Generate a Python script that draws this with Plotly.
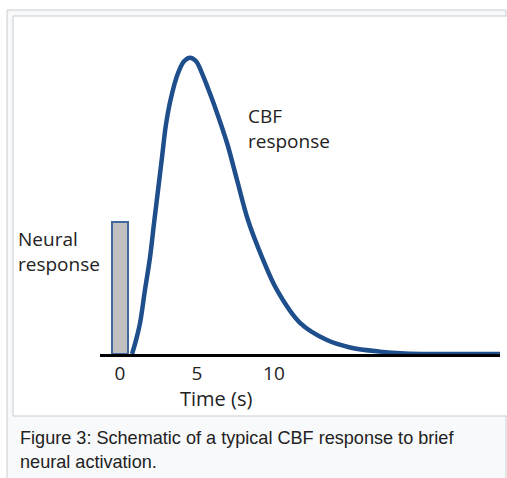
import plotly.graph_objects as go

# CBF response curve (time in s, normalised amplitude)
time_s = [0.78, 1.04, 1.30, 1.62, 1.95, 2.21, 2.47, 2.73, 2.99, 3.31, 3.77, 4.16, 4.55, 4.94, 5.32,
          5.71, 6.17, 6.95, 7.60, 8.31, 9.22, 10.19, 11.69, 13.44, 14.94, 16.88, 18.5, 20.5, 24.7]
cbf = [0.0, 0.047, 0.104, 0.216, 0.327, 0.442, 0.553, 0.665, 0.776, 0.864, 0.948, 0.988, 1.0, 0.988, 0.948,
       0.897, 0.833, 0.712, 0.587, 0.452, 0.327, 0.216, 0.105, 0.047, 0.022, 0.008, 0.002, 0.0, 0.0]

# Neural response (brief stimulus)
neural_time = [0]
neural_value = [0.445]

tick_vals = [0, 5, 10]
tick_text = ["0", "5", "10"]

W, H = 507, 478
L, R, T, B = 100, 7, 28, 124
PW = W - L - R
PH = H - T - B


def px(x):
    return (x - L) / PW


def py(y):
    return (H - B - y) / PH


fig = go.Figure()
fig.add_trace(go.Bar(x=neural_time, y=neural_value, width=1.1,
                     marker=dict(color="#c0c0c0", line=dict(color="#41689a", width=2)),
                     showlegend=False))
fig.add_trace(go.Scatter(x=time_s, y=cbf, mode="lines",
                         line=dict(color="#1f4e8c", width=4.5, shape="spline", smoothing=1.0),
                         showlegend=False))

shapes = [
    dict(type="rect", xref="paper", yref="paper", x0=px(7), x1=px(506), y0=py(480), y1=py(10),
         fillcolor="#f8f9fa", line=dict(color="#cccccc", width=1), layer="below"),
    dict(type="rect", xref="paper", yref="paper", x0=px(13), x1=px(512), y0=py(416), y1=py(16),
         fillcolor="#ffffff", line=dict(color="#c8ccd1", width=1), layer="below"),
]

FONT = "Open Sans"
annotations = [
    dict(x=8.2, y=0.76, xref="x", yref="y", text="CBF<br>response", showarrow=False,
         xanchor="left", yanchor="middle", align="left",
         font=dict(family=FONT, size=19, color="#222222")),
    dict(x=px(16), y=0.346, xref="paper", yref="y", text="Neural<br>response", showarrow=False,
         xanchor="left", yanchor="middle", align="left",
         font=dict(family=FONT, size=19, color="#222222")),
    dict(x=px(216), y=py(398), xref="paper", yref="paper", text="Time (s)", showarrow=False,
         xanchor="center", yanchor="middle",
         font=dict(family=FONT, size=20, color="#222222")),
    dict(x=px(18), y=py(449.5), xref="paper", yref="paper",
         text="Figure 3: Schematic of a typical CBF response to brief<br>neural activation.",
         showarrow=False, xanchor="left", yanchor="middle", align="left",
         font=dict(family="Liberation Sans, Arial", size=18.1, color="#222222")),
]

fig.update_layout(
    width=W, height=H,
    margin=dict(l=L, r=R, t=T, b=B, pad=0),
    paper_bgcolor="#ffffff",
    plot_bgcolor="rgba(0,0,0,0)",
    shapes=shapes,
    annotations=annotations,
    bargap=0,
    xaxis=dict(range=[-1.30, 24.68], tickvals=tick_vals, ticktext=tick_text,
               showgrid=False, zeroline=False, showline=True, linecolor="#000000", linewidth=3,
               ticks="", tickfont=dict(family=FONT, size=19, color="#222222")),
    yaxis=dict(range=[0, 1.1], visible=False, showgrid=False, zeroline=False),
)

fig.write_html("out.html", config={"displayModeBar": False},
               post_script="document.body.style.margin='0';document.body.style.overflow='hidden';")
